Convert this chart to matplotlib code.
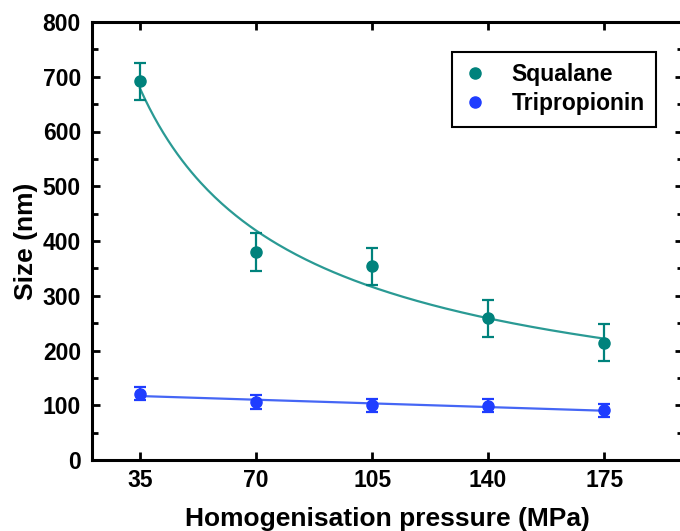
import numpy as np
import matplotlib
matplotlib.use('Agg')
import matplotlib.pyplot as plt
from matplotlib.ticker import MultipleLocator

# values
pressure = [35, 70, 105, 140, 175]
squalane = [692, 380, 354, 259, 214]
squalane_err = [34, 34, 34, 34, 34]
tripropionin = [121, 106, 100, 99, 91]
tripropionin_err = [12, 12, 12, 12, 12]

plt.rcParams['font.family'] = ['Liberation Sans', 'DejaVu Sans']
plt.rcParams['font.weight'] = 'bold'

fig = plt.figure(figsize=(6.8, 5.31), dpi=100)
ax = fig.add_axes([92/680, 1 - 460/531, (683 - 92)/680, (460 - 22)/531])

teal = '#00827c'
teal_line = '#2a9a94'
blue = '#1f3dff'
blue_line = '#4566f5'

x = np.array(pressure, dtype=float)
xs = np.linspace(35, 175, 200)

# power-law fit for squalane, linear fit for tripropionin
b, loga = np.polyfit(np.log(x), np.log(squalane), 1)
ax.plot(xs, np.exp(loga) * xs**b, color=teal_line, lw=1.6, zorder=1)
m, c = np.polyfit(x, tripropionin, 1)
ax.plot(xs, m * xs + c, color=blue_line, lw=1.6, zorder=1)

ax.errorbar(pressure, squalane, yerr=squalane_err, fmt='o', color=teal,
            ms=8, capsize=4, elinewidth=1.6, capthick=1.6, label='Squalane', zorder=3)
ax.errorbar(pressure, tripropionin, yerr=tripropionin_err, fmt='o', color=blue,
            ms=8, capsize=4, elinewidth=1.6, capthick=1.6, label='Tripropionin', zorder=3)

ax.set_xlim(20.5, 198.8)
ax.set_ylim(0, 800)
ax.set_xticks(pressure)
ax.yaxis.set_major_locator(MultipleLocator(100))
ax.yaxis.set_minor_locator(MultipleLocator(50))

for s in ax.spines.values():
    s.set_linewidth(2.2)
ax.tick_params(which='both', direction='in', top=True, right=True, width=2, labelsize=16.5)
ax.tick_params(which='major', length=6)
ax.tick_params(which='minor', length=4)
for lab in ax.get_xticklabels() + ax.get_yticklabels():
    lab.set_fontweight('bold')
ax.tick_params(axis='x', pad=6.5)
ax.tick_params(axis='y', pad=8)

ax.set_xlabel('Homogenisation pressure (MPa)', fontsize=19, fontweight='bold', labelpad=11)
ax.set_ylabel('Size (nm)', fontsize=19, fontweight='bold', labelpad=3)

handles, labels = ax.get_legend_handles_labels()
handles = [h[0] for h in handles]
leg = ax.legend(handles, labels, loc='upper left', bbox_to_anchor=(452/680, 1 - 52/531),
                bbox_transform=fig.transFigure, fancybox=False, framealpha=1,
                edgecolor='black', prop={'size': 16.5, 'weight': 'bold'},
                handlelength=1.0, handletextpad=1.1, borderpad=0.5, labelspacing=0.25,
                borderaxespad=0)
leg.get_frame().set_linewidth(1.5)

fig.savefig('out.png', dpi=100)
